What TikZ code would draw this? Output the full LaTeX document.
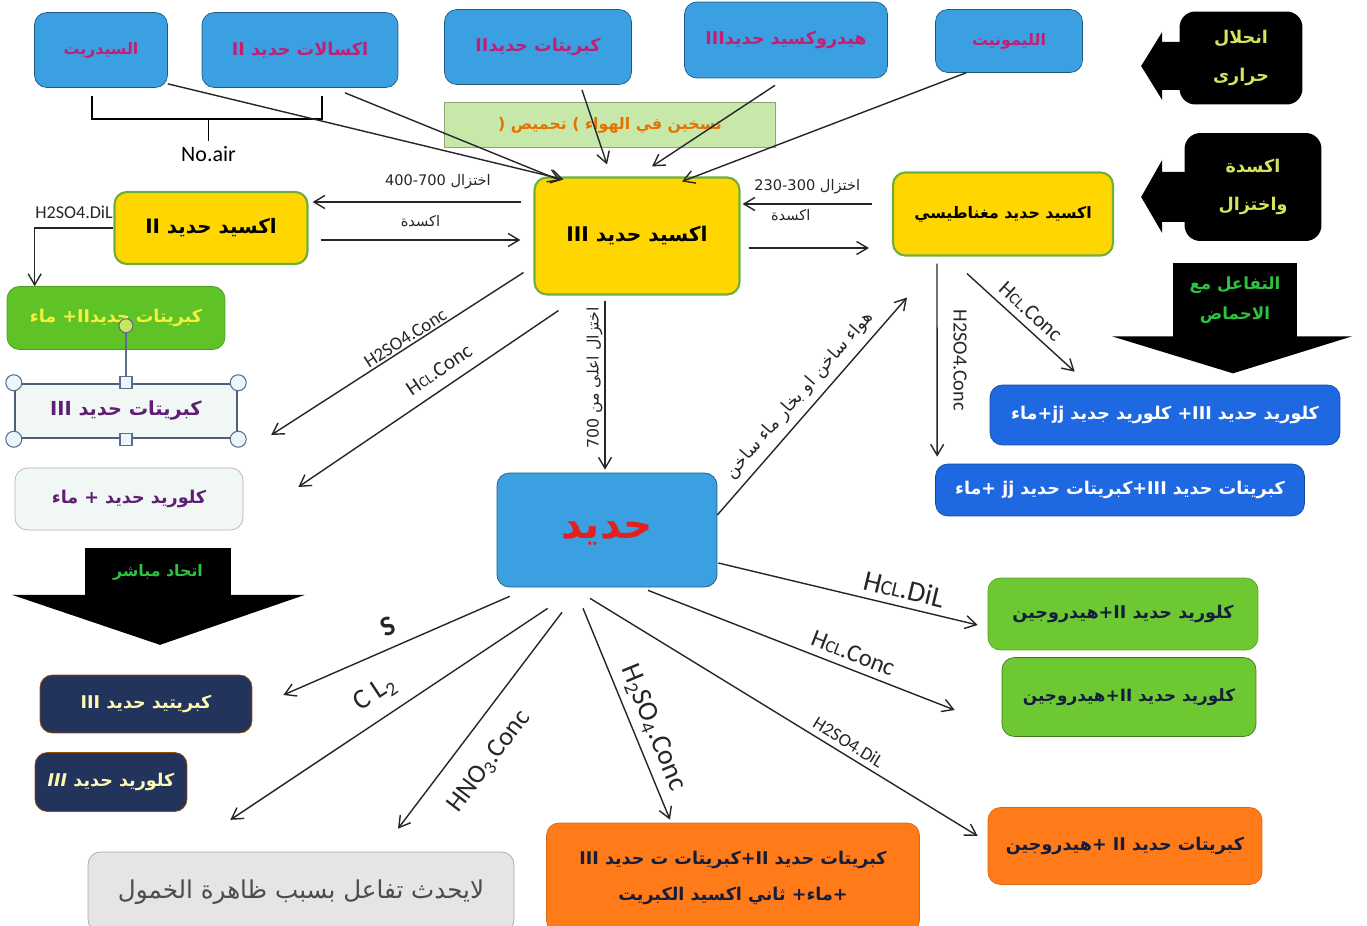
\documentclass[tikz,border=0pt]{standalone}
\usepackage{fontspec}
\setmainfont{Carlito}
\newfontfamily\arabicfont[Script=Arabic]{DejaVu Sans}
\usetikzlibrary{arrows.meta,positioning,calc}
\TeXXeTstate=1
\newcommand{\artxt}[1]{\beginR #1\endR}
\newcommand{\jn}{\kern0pt }
\newcommand{\fsz}[1]{\fontsize{#1}{#1}\selectfont}
\definecolor{topblue}{RGB}{58,160,225}
\definecolor{oxyellow}{RGB}{255,214,0}
\definecolor{oxborder}{RGB}{110,175,60}
\definecolor{rootblue}{RGB}{30,105,225}
\definecolor{navybox}{RGB}{35,52,92}
\definecolor{grassgreen}{RGB}{110,200,50}
\definecolor{leafgreen}{RGB}{95,195,40}
\definecolor{fireorange}{RGB}{255,122,25}
\definecolor{paleteal}{RGB}{240,247,245}
\definecolor{stripgreen}{RGB}{200,232,170}
\definecolor{magtext}{RGB}{195,30,115}
\definecolor{purtext}{RGB}{95,30,115}
\definecolor{inknavy}{RGB}{20,30,60}
\definecolor{sunyellow}{RGB}{250,240,60}
\definecolor{limetext}{RGB}{215,228,90}
\definecolor{acidgreen}{RGB}{45,195,65}
\definecolor{ironred}{RGB}{230,30,30}
\definecolor{handleline}{RGB}{90,110,140}
\definecolor{handlefill}{RGB}{235,245,250}
\definecolor{rotgreen}{RGB}{200,230,90}

\begin{document}
\begin{tikzpicture}[x=0.02cm,y=-0.02cm,
  box/.style={draw,rounded corners=7pt,align=center,inner sep=2pt,font=\arabicfont\bfseries\fontsize{10}{16}\selectfont},
  source/.style={box,fill=topblue,draw=topblue!55!black,text=magtext},
  oxide/.style={box,fill=oxyellow,draw=oxborder,line width=1.2pt},
  darkbox/.style={fill=black,rounded corners=9pt,align=center,inner sep=2pt,font=\arabicfont\bfseries\fontsize{10}{22}\selectfont},
  tag/.style={font=\fsz{10},inner sep=1pt},
  bigtag/.style={font=\fsz{14},inner sep=1pt},
  artag/.style={font=\arabicfont\fsz{8.3},inner sep=1pt},
  arr/.style={-{Straight Barb[length=2.2mm,width=2.6mm]},line width=0.8pt,black!85},
  handle/.style={draw=handleline,fill=handlefill,line width=0.6pt}
]
\useasboundingbox (0,0) rectangle (1367,926);

% ores and salts on top
\node[source,minimum width=2.66cm,minimum height=1.5cm,font=\arabicfont\bfseries\fsz{9}] (sid) at (101,50) {\artxt{السيدريت}};
\node[source,minimum width=3.92cm,minimum height=1.5cm] (oxa) at (300,50) {\artxt{اكسالات حديد II}};
\node[source,minimum width=3.74cm,minimum height=1.5cm] (sul2) at (538,47) {\artxt{كبريتات حديد\jn II}};
\node[source,minimum width=4.06cm,minimum height=1.52cm] (hyd) at (786,40) {\artxt{هيدروكسيد حديد\jn III}};
\node[source,minimum width=2.94cm,minimum height=1.26cm,font=\arabicfont\bfseries\fsz{9}] (lim) at (1009,41) {\artxt{الليمونيت}};
\node[draw=stripgreen!70!black,fill=stripgreen,minimum width=6.62cm,minimum height=0.9cm,text=orange!90!black,font=\arabicfont\bfseries\fsz{9}] (heat) at (610,125) {\artxt{تسخين في الهواء ) تحميص (}};

% oxides
\node[oxide,minimum width=4.1cm,minimum height=2.34cm,font=\arabicfont\bfseries\fsz{11.5}] (fe3) at (637,236) {\artxt{اكسيد حديد III}};
\node[oxide,minimum width=3.86cm,minimum height=1.44cm,font=\arabicfont\bfseries\fsz{11.3}] (feo) at (211,228) {\artxt{اكسيد حديد II}};
\node[oxide,minimum width=4.4cm,minimum height=1.66cm,font=\arabicfont\bfseries\fsz{9}] (mag) at (1003,214) {\artxt{اكسيد حديد مغناطيسي}};

% left products
\node[box,fill=leafgreen,draw=leafgreen!80!black,text=sunyellow,minimum width=4.36cm,minimum height=1.26cm] (sulw) at (116,318) {\artxt{كبريتات حديد\jn II\jn + ماء}};
\node[box,sharp corners,fill=paleteal,draw=navybox!80,line width=1.4pt,text=purtext,minimum width=4.44cm,minimum height=1.08cm,font=\arabicfont\bfseries\fsz{11}] (sul3) at (126,411) {\artxt{كبريتات حديد III}};
\node[box,fill=paleteal,draw=black!30,text=purtext,minimum width=4.56cm,minimum height=1.24cm] (chlw) at (129,499) {\artxt{كلوريد حديد + ماء}};

% iron
\node[box,fill=topblue,draw=topblue!55!black,text=ironred,minimum width=4.4cm,minimum height=2.28cm,text depth=0pt,font=\arabicfont\bfseries\fsz{23}] (fe) at (607,530) {\artxt{حديد}};

% right products
\node[box,fill=rootblue,draw=rootblue!70!black,text=white,minimum width=7.0cm,minimum height=1.2cm] (rb1) at (1165,415) {\artxt{كلوريد حديد III\jn+ كلوريد جديد jj\jn+\jn ماء}};
\node[box,fill=rootblue,draw=rootblue!70!black,text=white,minimum width=7.38cm,minimum height=1.04cm] (rb2) at (1120,490) {\artxt{كبريتات حديد III\jn+\jn كبريتات حديد jj +\jn ماء}};
\node[box,fill=grassgreen,draw=grassgreen!80!black,text=inknavy,minimum width=5.4cm,minimum height=1.44cm] (g1) at (1123,614) {\artxt{كلوريد حديد II\jn+\jn هيدروجين}};
\node[box,fill=grassgreen,draw=grassgreen!60!black,text=inknavy,minimum width=5.08cm,minimum height=1.58cm,font=\arabicfont\bfseries\fsz{9.6}] (g2) at (1129,697) {\artxt{كلوريد حديد II\jn+\jn هيدروجين}};
\node[box,fill=fireorange,draw=fireorange!85!black,text=inknavy,minimum width=5.48cm,minimum height=1.54cm] (or2) at (1125,846) {\artxt{كبريتات حديد II +\jn هيدروجين}};

% bottom products
\node[box,fill=navybox,draw=orange!60!black,text=sunyellow!40,minimum width=4.24cm,minimum height=1.16cm] (fes) at (146,704) {\artxt{كبريتيد حديد III}};
\node[box,fill=navybox,draw=orange!60!black,text=sunyellow!40,minimum width=3.04cm,minimum height=1.18cm] (fecl3) at (111,782) {\artxt{كلوريد حديد \textit{III}}};
\node[box,fill=black!10,draw=black!35,text=black!70,minimum width=8.52cm,minimum height=1.6cm,font=\arabicfont\fsz{14}] (inert) at (301,892) {\artxt{لايحدث تفاعل بسبب ظاهرة الخمول}};
\node[box,fill=fireorange,draw=fireorange!85!black,text=inknavy,minimum width=7.46cm,minimum height=2.2cm,font=\arabicfont\bfseries\fontsize{10}{20}\selectfont] (so2) at (733,878) {\artxt{كبريتات حديد II\jn+\jn كبريتات ت حديد III}\\\artxt{+\jn ماء\jn+ ثاني اكسيد الكبريت}};

% process boxes
\node[darkbox,text=limetext,minimum width=2.46cm,minimum height=1.86cm] (blk1) at (1241,58) {\artxt{انحلال}\\\artxt{حرارى}};
\fill (blk1.west) ++(6,-16) -- ++(-23,0) -- ++(0,-10) -- ++(-21,34) -- ++(21,34) -- ++(0,-10) -- ++(23,0) -- cycle;
\node[darkbox,text=limetext,minimum width=2.74cm,minimum height=2.16cm] (blk2) at (1253,187) {\artxt{اكسدة}\\\artxt{واختزال}};
\fill (blk2.west) ++(6,-15) -- ++(-28,0) -- ++(0,-12) -- ++(-21,37) -- ++(21,36) -- ++(0,-11) -- ++(28,0) -- cycle;
\node[darkbox,sharp corners,text=acidgreen,minimum width=2.5cm,minimum height=1.48cm,font=\arabicfont\bfseries\fontsize{9.5}{17}\selectfont] (blk3) at (1235,300) {\artxt{التفاعل مع}\\\artxt{الاحماض}};
\fill ($(blk3.south)+(-123,-1)$) -- ($(blk3.south)+(117,-1)$) -- ($(blk3.south)+(-2,36)$) -- cycle;
\node[darkbox,sharp corners,text=acidgreen,minimum width=2.94cm,minimum height=0.98cm,font=\arabicfont\bfseries\fsz{9}] (blk4) at (158,572) {\artxt{اتحاد مباشر}};
\fill ($(blk4.south)+(-146,-2)$) -- ($(blk4.south)+(147,-2)$) -- ($(blk4.south)+(2,48)$) -- cycle;

% selection handles round the sulfate box
\foreach \c in {north west,north east,south west,south east}
  \draw[handle] (sul3.\c) circle (8);
\foreach \c in {north,south}
  \draw[handle] ($(sul3.\c)+(-6,-6)$) rectangle ++(12,12);
\draw[handleline,line width=0.7pt] ($(sul3.north)+(0,-6)$) -- ($(sul3.north)+(0,-50)$) coordinate (rot);
\draw[handle,fill=rotgreen] ($(rot)+(0,-7)$) circle (7);

% no air bracket
\draw[line width=0.8pt] ($(sid.south)+(-9,8)$) -- ++(0,23) -| ($(oxa.south)+(22,8)$);
\coordinate (brm) at ($(sid.south)!0.5!(oxa.south)+(8,31)$);
\draw[line width=0.8pt] (brm) -- ++(0,22) node[tag,below=2pt,font=\fsz{12.5}] (noair) {No.air};

% roasting in air
\draw[arr] ($(sid.south east)+(0,-4)$) -- ($(fe3.north west)+(30,3)$);
\draw[arr] ($(oxa.south)+(45,5)$) -- ($(fe3.north west)+(27,4)$);
\draw[arr] ($(sul2.south)+(44,5)$) -- ($(fe3.north)+(-30,-12)$);
\draw[arr] ($(hyd.south)+(-11,7)$) -- ($(fe3.north)+(15,-10)$);
\draw[arr] ($(lim.south)+(-43,0)$) -- ($(fe3.north)+(45,5)$);

% oxide interconversion
\draw[arr] ($(fe3.west)+(-12,-34)$) -- node[artag,above=6pt,pos=0.4] {\artxt{اختزال \beginL400-700\endL}} ($(feo.east)+(4,-26)$);
\draw[arr] ($(feo.east)+(12,12)$) -- node[artag,above=6pt,pos=0.5] {\artxt{اكسدة}} ($(fe3.west)+(-13,4)$);
\draw[arr] ($(mag.west)+(-20,-10)$) -- node[artag,above=4pt,pos=0.5] {\artxt{اختزال \beginL230-300\endL}} ($(fe3.east)+(2,-32)$);
\draw[arr] ($(fe3.east)+(8,12)$) -- node[artag,above=14pt,pos=0.35] {\artxt{اكسدة}} ($(mag.west)+(-23,34)$);

% acids on the oxides
\draw[arr] (feo.west) -| node[tag,above=4pt,pos=0.25,font=\fsz{10.3}] {H2SO4.DiL} ($(sulw.north west)+(28,0)$);
\draw[arr] ($(fe3.south west)+(-10,-23)$) -- node[tag,sloped,above,pos=0.45,font=\fsz{10.7}] {H2SO4.Conc} ($(sul3.east)+(33,24)$);
\draw[arr] ($(fe3.south west)+(25,15)$) -- node[tag,sloped,above=5pt,pos=0.42,font=\fsz{12}] {H{\fsz{8.5}CL}.Conc} ($(chlw.east)+(55,-12)$);
\draw[arr] ($(fe3.south)+(-32,5)$) -- node[artag,rotate=90,above=4pt,font=\arabicfont\fsz{9}] {\artxt{اختزال اعلى من \beginL700\endL}} ($(fe.north)+(-2,-3)$);
\draw[arr] ($(fe.east)+(0,-15)$) -- node[artag,sloped,above=3pt,font=\arabicfont\fsz{10}] {\artxt{هواء ساخن او بخار ماء ساخن}} ($(mag.south west)+(15,41)$);
\draw[arr] ($(mag.south west)+(45,7)$) -- node[tag,xshift=0.46cm,rotate=-90,anchor=center,font=\fsz{11.5}] {H2SO4.Conc} ($(rb2.north west)+(2,-7)$);
\draw[arr] ($(mag.south west)+(75,17)$) -- node[tag,sloped,above=3pt,font=\fsz{12.3}] {H{\fsz{9}CL}.Conc} ($(rb1.north west)+(85,-13)$);

% reactions of iron
\draw[arr] ($(fe.south west)+(13,9)$) -- node[bigtag,sloped,above=5pt,font=\bfseries\fsz{16}] {S} ($(fes.east)+(31,-9)$);
\draw[arr] ($(fe.south west)+(51,21)$) -- node[bigtag,sloped,above=6pt,pos=0.5,font=\fsz{16}] {C L\textsubscript{2}} ($(fecl3.south east)+(43,8)$);
\draw[arr] ($(fe.south)+(-45,25)$) -- node[bigtag,sloped,below=11pt,pos=0.6,font=\fsz{15}] {HNO\textsubscript{3}.Conc} ($(inert.north)+(97,-23)$);
\draw[arr] ($(fe.south)+(-24,21)$) -- node[bigtag,sloped,above=3pt,pos=0.6,font=\fsz{16}] {H\textsubscript{2}SO\textsubscript{4}.Conc} ($(so2.north)+(-63,-3)$);
\draw[arr] ($(fe.south)+(-17,11)$) -- node[tag,sloped,above=2pt,pos=0.65,font=\fsz{10.5}] {H2SO4.DiL} ($(or2.west)+(-10,-10)$);
\draw[arr] ($(fe.south)+(41,3)$) -- node[bigtag,sloped,above=3pt,pos=0.65] {H{\fsz{10}CL}.Conc} ($(g2.west)+(-47,13)$);
\draw[arr] ($(fe.east)+(1,33)$) -- node[bigtag,sloped,above=3pt,pos=0.7,font=\fsz{16.5}] {H{\fsz{12}CL}.DiL} ($(g1.west)+(-10,11)$);
\end{tikzpicture}
\end{document}
